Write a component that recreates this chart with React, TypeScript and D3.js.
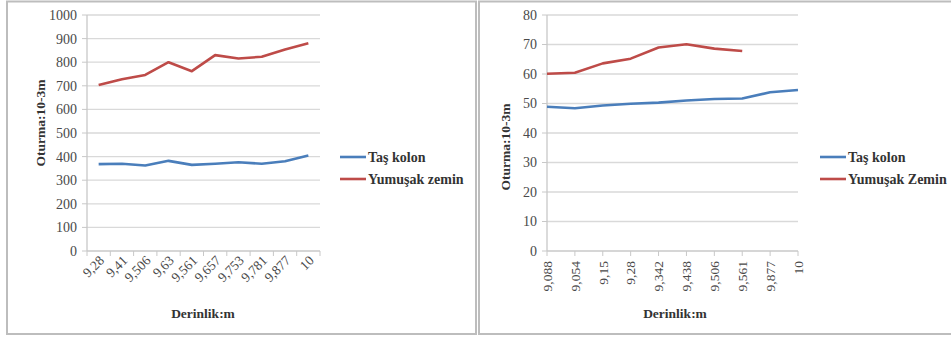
import * as d3 from "d3";
import { useEffect, useRef } from "react";

// Sol grafik
const leftCategories = ["9,28", "9,41", "9,506", "9,63", "9,561", "9,657", "9,753", "9,781", "9,877", "10"];
const leftTasKolon = [368, 370, 362, 382, 365, 370, 376, 370, 380, 405];
const leftYumusak = [703, 728, 746, 800, 762, 830, 816, 823, 854, 880];
const leftTicks = [0, 100, 200, 300, 400, 500, 600, 700, 800, 900, 1000];

// Sağ grafik
const rightCategories = ["9,088", "9,054", "9,15", "9,28", "9,342", "9,438", "9,506", "9,561", "9,877", "10"];
const rightTasKolon = [48.9, 48.4, 49.3, 49.9, 50.3, 51.0, 51.5, 51.7, 53.8, 54.6];
const rightYumusak: (number | null)[] = [60.1, 60.4, 63.6, 65.2, 69.0, 70.1, 68.6, 67.8, null, null];
const rightTicks = [0, 10, 20, 30, 40, 50, 60, 70, 80];

const BLUE = "#4a7ebb";
const RED = "#be4b48";
const FONT = "Liberation Serif, Times New Roman, DejaVu Serif, serif";

interface Panel {
    x0: number;
    x1: number;
    plotLeft: number;
    plotRight: number;
    categories: string[];
    blue: (number | null)[];
    red: (number | null)[];
    ticks: number[];
    onTick: boolean;
    legendX: number;
    redLabel: string;
    yTitleX: number;
    yTitleY: number;
    xTitleX: number;
}

export default function App() {
    const svgRef = useRef<SVGSVGElement | null>(null);

    useEffect(() => {
        const svg = d3.select(svgRef.current);
        svg.selectAll("*").remove();

        const top = 15;
        const bottom = 251;

        const panels: Panel[] = [
            {
                x0: 7, x1: 476, plotLeft: 87, plotRight: 320,
                categories: leftCategories, blue: leftTasKolon, red: leftYumusak,
                ticks: leftTicks, onTick: false, legendX: 340, redLabel: "Yumuşak zemin",
                yTitleX: 40, yTitleY: 123, xTitleX: 203,
            },
            {
                x0: 479, x1: 960, plotLeft: 547, plotRight: 798,
                categories: rightCategories, blue: rightTasKolon, red: rightYumusak,
                ticks: rightTicks, onTick: true, legendX: 820, redLabel: "Yumuşak Zemin",
                yTitleX: 505, yTitleY: 147, xTitleX: 675,
            },
        ];

        panels.forEach((p) => {
            // Çerçeve
            svg.append("rect")
                .attr("x", p.x0)
                .attr("y", 1.5)
                .attr("width", p.x1 - p.x0)
                .attr("height", 332.5)
                .attr("fill", "#fff")
                .attr("stroke", "#bdbdbd")
                .attr("stroke-width", 2);

            const y = d3.scaleLinear()
                .domain([0, d3.max(p.ticks)!])
                .range([bottom, top]);

            let xPos: (c: string) => number;
            let tickXs: number[];
            if (p.onTick) {
                const x = d3.scalePoint().domain(p.categories).range([p.plotLeft, p.plotRight]);
                xPos = (c) => x(c)!;
                tickXs = p.categories.map((c) => x(c)!);
            } else {
                const x = d3.scaleBand().domain(p.categories).range([p.plotLeft, p.plotRight]);
                xPos = (c) => x(c)! + x.bandwidth() / 2;
                tickXs = [...p.categories.map((c) => x(c)!), p.plotRight];
            }

            const g = svg.append("g").style("font-family", FONT);

            // Grid horizontal
            g.selectAll("line.grid")
                .data(p.ticks.filter((t) => t > 0))
                .enter()
                .append("line")
                .attr("x1", p.plotLeft)
                .attr("x2", p.plotRight)
                .attr("y1", (d) => y(d))
                .attr("y2", (d) => y(d))
                .attr("stroke", "#d9d9d9")
                .attr("stroke-width", 1.3);

            // Axis lines
            g.append("line")
                .attr("x1", p.plotLeft).attr("x2", p.plotLeft)
                .attr("y1", top).attr("y2", bottom)
                .attr("stroke", "#c8c8c8").attr("stroke-width", 1.3);
            g.append("line")
                .attr("x1", p.plotLeft).attr("x2", p.plotRight)
                .attr("y1", bottom).attr("y2", bottom)
                .attr("stroke", "#c8c8c8").attr("stroke-width", 1.3);

            // Y tick marks + labels
            g.selectAll("line.ytick")
                .data(p.ticks)
                .enter()
                .append("line")
                .attr("x1", p.plotLeft - 5)
                .attr("x2", p.plotLeft)
                .attr("y1", (d) => y(d))
                .attr("y2", (d) => y(d))
                .attr("stroke", "#c8c8c8");
            g.selectAll("text.ylab")
                .data(p.ticks)
                .enter()
                .append("text")
                .attr("x", p.plotLeft - 10)
                .attr("y", (d) => y(d))
                .attr("dy", "0.35em")
                .attr("text-anchor", "end")
                .attr("font-size", 14)
                .attr("fill", "#4a4a4a")
                .text((d) => d);

            // X tick marks
            g.selectAll("line.xtick")
                .data(tickXs)
                .enter()
                .append("line")
                .attr("x1", (d) => d)
                .attr("x2", (d) => d)
                .attr("y1", bottom)
                .attr("y2", bottom + 5)
                .attr("stroke", "#c8c8c8");

            // X labels
            g.selectAll("text.xlab")
                .data(p.categories)
                .enter()
                .append("text")
                .attr("transform", (c) =>
                    p.onTick
                        ? `translate(${xPos(c)},${bottom + 10}) rotate(-90)`
                        : `translate(${xPos(c) + 3},${bottom + 7}) rotate(-45)`)
                .attr("dy", "0.35em")
                .attr("text-anchor", "end")
                .attr("font-size", 13.5)
                .attr("fill", "#4a4a4a")
                .text((c) => c);

            // Lines
            const line = d3.line<number | null>()
                .defined((d) => d !== null)
                .x((_, i) => xPos(p.categories[i]))
                .y((d) => y(d as number));

            g.append("path")
                .attr("d", line(p.blue))
                .attr("fill", "none")
                .attr("stroke", BLUE)
                .attr("stroke-width", 2.6)
                .attr("stroke-linejoin", "round");
            g.append("path")
                .attr("d", line(p.red))
                .attr("fill", "none")
                .attr("stroke", RED)
                .attr("stroke-width", 2.6)
                .attr("stroke-linejoin", "round");

            // Titles
            g.append("text")
                .attr("transform", `translate(${p.yTitleX},${p.yTitleY}) rotate(-90)`)
                .attr("text-anchor", "middle")
                .attr("dy", "0.35em")
                .attr("font-size", 13.5)
                .attr("font-weight", "bold")
                .attr("fill", "#333")
                .text("Oturma:10-3m");
            g.append("text")
                .attr("x", p.xTitleX)
                .attr("y", 313)
                .attr("text-anchor", "middle")
                .attr("dy", "0.35em")
                .attr("font-size", 13.5)
                .attr("font-weight", "bold")
                .attr("fill", "#333")
                .text("Derinlik:m");

            // Legend
            const legend = [
                { label: "Taş kolon", color: BLUE, y: 157 },
                { label: p.redLabel, color: RED, y: 179 },
            ];
            legend.forEach((l) => {
                g.append("line")
                    .attr("x1", p.legendX)
                    .attr("x2", p.legendX + 26)
                    .attr("y1", l.y)
                    .attr("y2", l.y)
                    .attr("stroke", l.color)
                    .attr("stroke-width", 2.6);
                g.append("text")
                    .attr("x", p.legendX + 28)
                    .attr("y", l.y)
                    .attr("dy", "0.35em")
                    .attr("font-size", 14)
                    .attr("font-weight", "bold")
                    .attr("fill", "#333")
                    .text(l.label);
            });
        });
    }, []);

    return (
        <svg
            ref={svgRef}
            width={951}
            height={337}
            style={{ position: "absolute", left: 0, top: 0, background: "#fff" }}
        ></svg>
    );
}
